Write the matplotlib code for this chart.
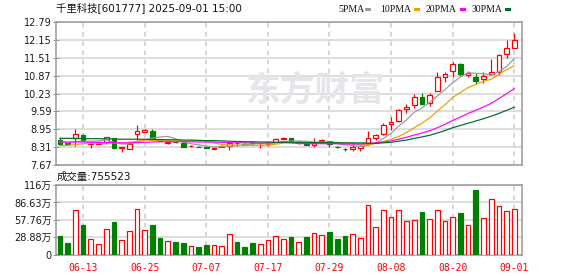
import matplotlib

matplotlib.use("Agg")
import matplotlib.pyplot as plt
from matplotlib.patches import Rectangle

plt.rcParams["font.family"] = ["DejaVu Sans", "Noto Sans CJK SC"]

title = "千里科技[601777] 2025-09-01 15:00"

# daily candles, 2025-06-10 .. 2025-09-01 (60 trading days)
opens = [8.57, 8.46, 8.63, 8.75, 8.42, 8.44, 8.51, 8.63, 8.30, 8.24,
         8.79, 8.85, 8.89, 8.56, 8.46, 8.51, 8.48, 8.35, 8.34, 8.32,
         8.25, 8.34, 8.36, 8.47, 8.43, 8.47, 8.40, 8.43, 8.49, 8.60,
         8.64, 8.47, 8.42, 8.39, 8.55, 8.54, 8.34, 8.26, 8.24, 8.29,
         8.42, 8.63, 8.78, 9.13, 9.26, 9.67, 9.81, 10.09, 9.88, 10.31,
         10.83, 11.04, 11.29, 10.89, 10.82, 10.74, 10.94, 10.99, 11.64, 11.86]
highs = [8.68, 8.48, 8.96, 8.78, 8.46, 8.48, 8.67, 8.64, 8.31, 8.55,
         9.11, 8.95, 8.96, 8.60, 8.49, 8.52, 8.49, 8.38, 8.35, 8.33,
         8.30, 8.38, 8.50, 8.55, 8.45, 8.49, 8.46, 8.55, 8.63, 8.68,
         8.65, 8.52, 8.44, 8.64, 8.62, 8.55, 8.37, 8.28, 8.48, 8.38,
         8.89, 8.80, 9.17, 9.38, 9.69, 9.86, 10.21, 10.26, 10.26, 11.01,
         11.01, 11.36, 11.33, 11.04, 10.97, 10.99, 11.45, 11.63, 12.14, 12.40]
lows = [8.41, 8.42, 8.36, 8.52, 8.29, 8.42, 8.43, 8.25, 8.15, 8.24,
        8.57, 8.85, 8.63, 8.52, 8.43, 8.48, 8.33, 8.33, 8.31, 8.29,
        8.25, 8.33, 8.21, 8.36, 8.40, 8.41, 8.29, 8.36, 8.49, 8.59,
        8.49, 8.44, 8.38, 8.33, 8.51, 8.32, 8.29, 8.19, 8.19, 8.19,
        8.42, 8.58, 8.75, 8.93, 9.23, 9.55, 9.70, 9.86, 9.77, 10.31,
        10.65, 10.81, 10.85, 10.81, 10.56, 10.59, 10.89, 10.89, 11.49, 11.84]
closes = [8.42, 8.44, 8.78, 8.55, 8.45, 8.46, 8.67, 8.28, 8.31, 8.42,
          8.89, 8.93, 8.63, 8.54, 8.49, 8.49, 8.34, 8.36, 8.32, 8.30,
          8.29, 8.37, 8.46, 8.45, 8.41, 8.45, 8.41, 8.46, 8.61, 8.66,
          8.50, 8.49, 8.40, 8.45, 8.57, 8.44, 8.33, 8.24, 8.33, 8.36,
          8.63, 8.75, 9.10, 9.21, 9.64, 9.76, 10.09, 9.87, 10.18, 10.81,
          10.92, 11.28, 10.91, 10.95, 10.69, 10.85, 10.98, 11.60, 11.85, 12.14]

# volume in 万
volumes = [31.4, 20.2, 73.5, 49.9, 26.4, 17.4, 42.6, 55.0, 24.7, 39.3,
           75.1, 41.5, 49.9, 28.0, 23.0, 21.3, 19.6, 14.0, 12.9, 16.3,
           15.7, 14.0, 34.2, 21.3, 12.9, 19.6, 17.4, 24.7, 30.8, 26.4,
           29.5, 21.3, 29.5, 35.9, 32.8, 38.1, 26.4, 31.4, 34.2, 27.5,
           83.0, 46.0, 74.6, 62.8, 74.6, 56.1, 57.8, 70.1, 59.4, 74.6,
           56.1, 62.8, 68.4, 49.4, 107.1, 61.1, 93.1, 81.3, 72.9, 75.5523]

ma5 = [8.50, 8.47, 8.52, 8.53, 8.53, 8.54, 8.58, 8.48, 8.43, 8.43,
       8.51, 8.57, 8.64, 8.68, 8.70, 8.62, 8.50, 8.44, 8.40, 8.36,
       8.32, 8.33, 8.35, 8.37, 8.40, 8.43, 8.44, 8.44, 8.47, 8.52,
       8.53, 8.54, 8.53, 8.50, 8.48, 8.47, 8.44, 8.40, 8.38, 8.34,
       8.38, 8.46, 8.63, 8.81, 9.07, 9.29, 9.56, 9.71, 9.91, 10.14,
       10.37, 10.61, 10.82, 10.97, 10.95, 10.94, 10.88, 11.01, 11.19, 11.48]
ma10 = [8.37, 8.38, 8.41, 8.44, 8.45, 8.46, 8.47, 8.47, 8.47, 8.48,
        8.53, 8.57, 8.56, 8.56, 8.56, 8.57, 8.53, 8.54, 8.54, 8.53,
        8.47, 8.41, 8.40, 8.39, 8.38, 8.38, 8.38, 8.39, 8.42, 8.46,
        8.48, 8.49, 8.48, 8.48, 8.50, 8.50, 8.49, 8.47, 8.44, 8.41,
        8.42, 8.45, 8.52, 8.60, 8.70, 8.84, 9.01, 9.17, 9.36, 9.60,
        9.83, 10.09, 10.27, 10.44, 10.55, 10.66, 10.74, 10.92, 11.08, 11.22]
ma20 = [8.50, 8.50, 8.50, 8.50, 8.49, 8.49, 8.48, 8.48, 8.47, 8.47,
        8.48, 8.49, 8.50, 8.51, 8.51, 8.51, 8.51, 8.51, 8.50, 8.50,
        8.50, 8.49, 8.48, 8.47, 8.47, 8.47, 8.46, 8.47, 8.48, 8.49,
        8.47, 8.45, 8.44, 8.44, 8.44, 8.44, 8.44, 8.43, 8.43, 8.43,
        8.45, 8.47, 8.50, 8.54, 8.60, 8.67, 8.75, 8.82, 8.90, 9.01,
        9.13, 9.27, 9.39, 9.52, 9.63, 9.75, 9.88, 10.05, 10.22, 10.41]
ma30 = [8.63, 8.63, 8.63, 8.62, 8.62, 8.62, 8.61, 8.61, 8.60, 8.60,
        8.60, 8.60, 8.59, 8.59, 8.58, 8.58, 8.57, 8.57, 8.56, 8.55,
        8.55, 8.54, 8.53, 8.52, 8.51, 8.51, 8.50, 8.50, 8.49, 8.49,
        8.49, 8.49, 8.48, 8.48, 8.48, 8.48, 8.47, 8.47, 8.47, 8.47,
        8.46, 8.45, 8.47, 8.49, 8.53, 8.57, 8.63, 8.68, 8.74, 8.82,
        8.91, 9.01, 9.09, 9.17, 9.25, 9.33, 9.42, 9.52, 9.63, 9.74]

date_ticks = [3, 11, 19, 27, 35, 43, 51, 59]
date_labels = ["06-13", "06-25", "07-07", "07-17", "07-29", "08-08", "08-20", "09-01"]
price_ticks = [7.67, 8.31, 8.95, 9.59, 10.23, 10.87, 11.51, 12.15, 12.79]
vol_ticks = [0, 28.88, 57.76, 86.64, 115.52]
vol_labels = ["0", "28.88万", "57.76万", "86.63万", "116万"]

ma_names = ["5PMA", "10PMA", "20PMA", "30PMA"]
ma_colors = ["#9a9a9a", "#f0a000", "#ff00ff", "#006b2e"]

UP = "#ff0000"
DOWN = "#008000"
GRID = "#d4d4d4"
FRAME = "#999999"
PX = 0.72  # one pixel in points at dpi 100

W, H = 578, 276


def fx(x):
    return x / W


def fy(y):
    return 1 - y / H


def style_axis(ax, ticks, labels):
    ax.set_xlim(-0.52, 60.04)
    ax.set_yticks(ticks)
    ax.set_yticklabels(labels)
    ax.tick_params(axis="y", direction="inout", length=4, width=PX, color=FRAME,
                   labelsize=7, labelcolor="#1a1a1a", pad=1)
    ax.set_xticks(date_ticks)
    for s in ax.spines.values():
        s.set_color(FRAME)
        s.set_linewidth(1.1)
    ax.grid(axis="y", color=GRID, lw=1.1)
    ax.grid(axis="x", color="#cccccc", lw=1.1, ls=(0, (3, 3)))
    ax.set_axisbelow(True)


fig = plt.figure(figsize=(W / 100, H / 100), dpi=100)
ax = fig.add_axes([fx(56), fy(165.3), fx(522.3) - fx(56), (165.3 - 21.7) / H])
axv = fig.add_axes([fx(56), fy(254.7), fx(522.3) - fx(56), (254.7 - 185) / H])

# watermark
fig.text(fx(315), fy(90), "东方财富", fontsize=25, fontweight="bold",
         color="#e6e6ea", ha="center", va="center",
         family=["Noto Sans CJK SC"], zorder=0)

bw = 0.62
for i in range(len(closes)):
    o, h, l, c = opens[i], highs[i], lows[i], closes[i]
    up = c >= o
    col = UP if up else DOWN
    ax.vlines(i, l, h, color=col, lw=PX * 1.2, zorder=3)
    ax.add_patch(Rectangle((i - bw / 2, min(o, c)), bw, max(abs(c - o), 0.004),
                           facecolor="white" if up else DOWN, edgecolor=col,
                           lw=PX * 1.2, zorder=4))

x = list(range(len(closes)))
for vals, col in zip([ma5, ma10, ma20, ma30], ma_colors):
    ax.plot(x, vals, color=col, lw=PX * 1.2, zorder=5)

ax.set_ylim(price_ticks[0], price_ticks[-1])
style_axis(ax, price_ticks, [f"{t:.2f}" for t in price_ticks])
ax.tick_params(axis="x", length=0, labelbottom=False)

vol_up = [c >= o for o, c in zip(opens, closes)]
axv.bar(x, volumes, width=bw,
        color=["white" if u else DOWN for u in vol_up],
        edgecolor=[UP if u else DOWN for u in vol_up], lw=PX * 1.2, zorder=3)
axv.set_ylim(0, vol_ticks[-1])
style_axis(axv, vol_ticks, vol_labels)
axv.set_xticklabels(date_labels, family="DejaVu Sans Mono", fontsize=7, color=UP)
axv.tick_params(axis="x", length=0, pad=6)

fig.text(fx(56), fy(8), title, fontsize=7.5, ha="left", va="center", color="#111111")
fig.text(fx(57), fy(177), f"成交量:{int(round(volumes[-1] * 1e4))}", fontsize=7.5,
         ha="left", va="center", color="#111111")

# legend row
leg_x = [338, 380, 426, 472]
sq_x = [365, 414, 460, 505]
for name, col, tx, sx in zip(ma_names, ma_colors, leg_x, sq_x):
    fig.text(fx(tx), fy(9.5), name, fontsize=7, family="Liberation Serif",
             ha="left", va="center", color="#111111")
    fig.add_artist(Rectangle((fx(sx), fy(11)), 6 / W, 3 / H, transform=fig.transFigure,
                             facecolor=col, edgecolor="none"))

fig.savefig("out.png", dpi=100, facecolor="white")
